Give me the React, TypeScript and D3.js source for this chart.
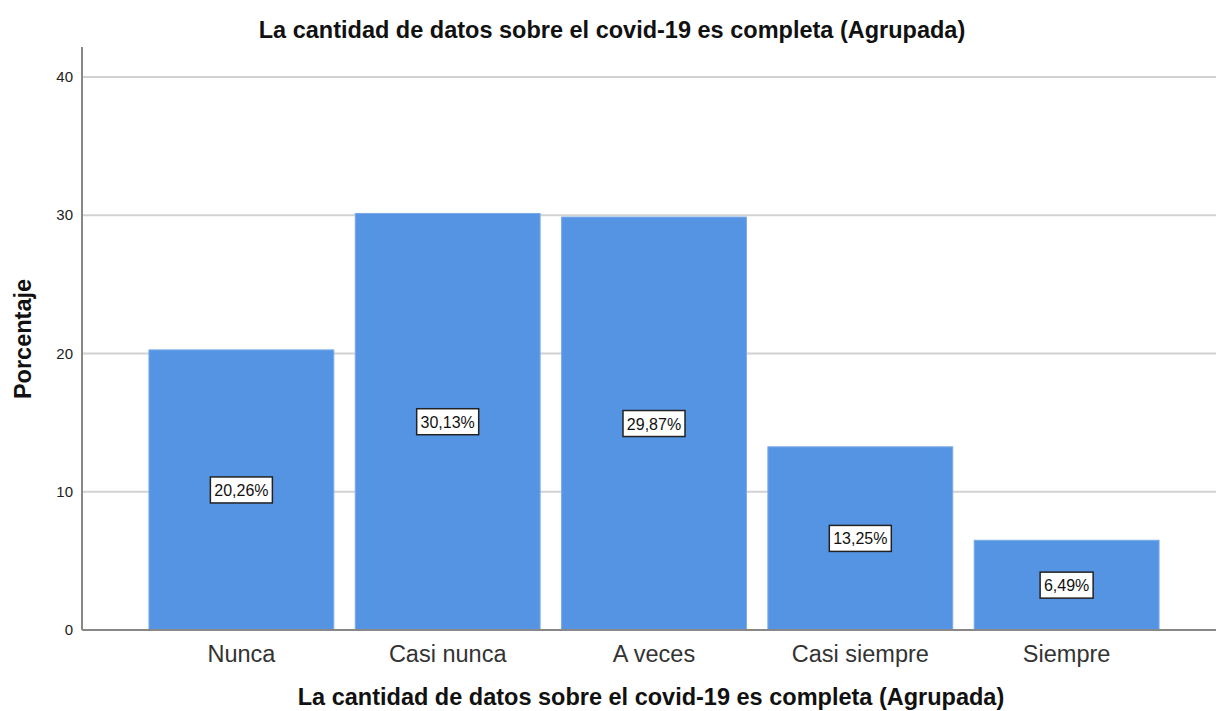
import * as d3 from "d3";
import React from "react";

const width = 1216;
const height = 711;
const margin = { top: 47, right: -10, bottom: 81, left: 82 };

const categories = ["Nunca", "Casi nunca", "A veces", "Casi siempre", "Siempre"];
const percents = [20.26, 30.13, 29.87, 13.25, 6.49];
const yTicks = [0, 10, 20, 30, 40];

const title = "La cantidad de datos sobre el covid-19 es completa (Agrupada)";
const font = "Liberation Sans, Arial, sans-serif";

const fmt = (v: number) => v.toFixed(2).replace(".", ",") + "%";

const App = () => {
  const xScale = d3
    .scaleBand()
    .domain(categories)
    .range([margin.left, width - margin.right])
    .paddingInner(0.104)
    .paddingOuter(0.3245);

  const yScale = d3
    .scaleLinear()
    .domain([0, 40])
    .range([630, 77]);

  const plotCenter = (margin.left + width - margin.right) / 2;

  return (
    <svg
      width={width}
      height={height}
      style={{ position: "absolute", left: 0, top: 0, background: "#fff" }}
      fontFamily={font}
    >
      {/* grid */}
      {yTicks.slice(1).map((t) => (
        <line
          key={t}
          x1={margin.left}
          x2={width}
          y1={yScale(t)}
          y2={yScale(t)}
          stroke="#d2d2d2"
          strokeWidth={2}
        />
      ))}

      {/* bars */}
      {categories.map((c, i) => (
        <rect
          key={c}
          x={xScale(c)}
          y={yScale(percents[i])}
          width={xScale.bandwidth()}
          height={yScale(0) - yScale(percents[i])}
          fill="#5594e3"
          stroke="#7aaaea"
          strokeWidth={1}
        />
      ))}

      {/* value labels */}
      {categories.map((c, i) => {
        const cx = (xScale(c) as number) + xScale.bandwidth() / 2;
        const cy = yScale(percents[i] / 2);
        const label = fmt(percents[i]);
        const w = label.length * 9 + 8;
        return (
          <g key={c}>
            <rect
              x={cx - w / 2}
              y={cy - 13}
              width={w}
              height={26}
              fill="#fff"
              stroke="#222"
              strokeWidth={1.5}
            />
            <text x={cx} y={cy + 6} textAnchor="middle" fontSize={16} fill="#111">
              {label}
            </text>
          </g>
        );
      })}

      {/* axes */}
      <line x1={margin.left} x2={margin.left} y1={margin.top} y2={yScale(0)} stroke="#888" strokeWidth={2} />
      <line x1={margin.left} x2={width} y1={yScale(0)} y2={yScale(0)} stroke="#888" strokeWidth={2} />

      {yTicks.map((t) => (
        <text key={t} x={73} y={yScale(t) + 5} textAnchor="end" fontSize={15} fill="#222">
          {t}
        </text>
      ))}

      {categories.map((c) => (
        <text
          key={c}
          x={(xScale(c) as number) + xScale.bandwidth() / 2}
          y={662}
          textAnchor="middle"
          fontSize={23.5}
          fill="#333"
        >
          {c}
        </text>
      ))}

      {/* titles */}
      <text x={612} y={38} textAnchor="middle" fontSize={23.5} fontWeight="bold" fill="#111">
        {title}
      </text>
      <text x={plotCenter - 3} y={705} textAnchor="middle" fontSize={23.5} fontWeight="bold" fill="#111">
        {title}
      </text>
      <text
        transform={`translate(31, 339) rotate(-90)`}
        textAnchor="middle"
        fontSize={23.5}
        fontWeight="bold"
        fill="#111"
      >
        Porcentaje
      </text>
    </svg>
  );
};

export default App;
